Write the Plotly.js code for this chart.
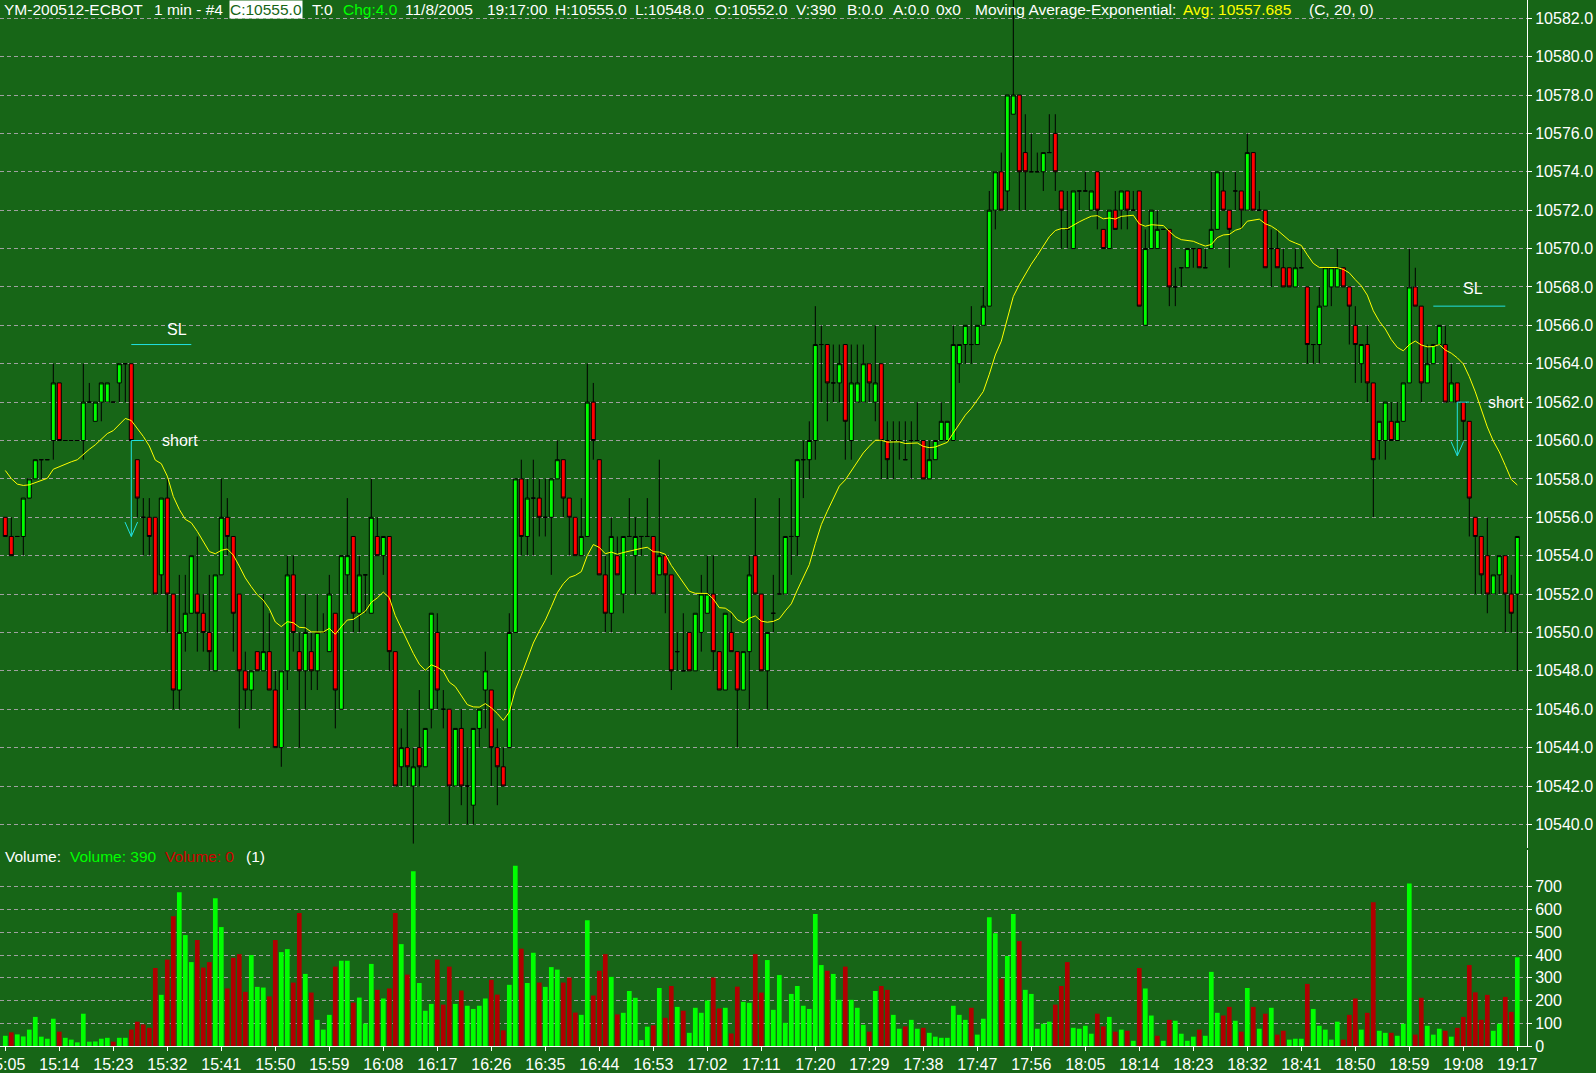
<!DOCTYPE html>
<html>
<head>
<meta charset="utf-8">
<script src="https://cdn.plot.ly/plotly-3.0.1.min.js"></script>
<style>
html,body{margin:0;padding:0;background:#176617;overflow:hidden;}
#chart{width:1596px;height:1073px;}
</style>
</head>
<body>
<div id="chart"></div>
<script>
// ---------------- DATA ----------------
const symbol = "YM-200512-ECBOT";
const startTime = "15:05";   // first 1-minute bar
const sessionDate = "11/8/2005";
const lastBarTime = "19:17:00";
const emaPeriod = 20;
const emaSeed = 10558.8;      // EMA value carried in from before the first visible bar
const emaLastText = "10557.685";

const opens = [
10556,10555,10555,10555,10557,10558,10559,10559,10560,10563,
10560,10560,10560,10560,10562,10561,10562,10562,10562,10563,
10564,10564,10559,10556,10556,10556,10553,10557,10552,10547,
10550,10551,10552,10551,10550,10548,10553,10556,10555,10552,
10548,10547,10549,10548,10549,10547,10544,10548,10553,10549,
10548,10549,10548,10550,10549,10551,10546,10553,10555,10551,
10553,10551,10555,10554,10555,10549,10543,10544,10542,10544,
10543,10546,10550,10546,10546,10542,10545,10542,10541,10545,
10547,10547,10544,10543,10544,10550,10558,10555,10557,10557,
10556,10556,10558,10559,10557,10556,10554,10555,10562,10559,
10553,10551,10554,10552,10555,10554,10555,10555,10555,10553,
10554,10553,10549,10548,10550,10548,10550,10551,10552,10549,
10547,10550,10549,10547,10549,10554,10552,10548,10551,10552,
10552,10555,10555,10559,10559,10560,10565,10565,10563,10563,
10565,10560,10562,10562,10564,10562,10564,10560,10560,10560,
10559,10560,10560,10560,10558,10559,10560,10560,10560,10564,
10565,10565,10565,10566,10567,10572,10574,10573,10577,10578,
10575,10574,10574,10574,10575,10576,10573,10571,10570,10573,
10573,10572,10574,10571,10570,10572,10572,10573,10572,10573,
10566,10570,10570,10571,10571,10568,10569,10569,10570,10570,
10569,10570,10571,10573,10572,10573,10573,10572,10575,10572,
10572,10570,10570,10569,10569,10568,10569,10568,10565,10565,
10567,10568,10568,10569,10568,10566,10564,10565,10563,10560,
10560,10561,10560,10561,10563,10568,10567,10563,10564,10565,
10565,10562,10563,10562,10561,10556,10555,10554,10552,10553,
10554,10552,10552];

const highs = [
10556,10556,10555,10557,10558,10559,10559,10559,10564,10563,
10560,10560,10560,10564,10563,10562,10563,10563,10562,10564,
10564,10564,10559,10557,10557,10556,10557,10558,10552,10553,
10553,10554,10555,10552,10553,10553,10558,10557,10555,10552,
10549,10548,10549,10552,10551,10548,10548,10554,10554,10550,
10552,10550,10552,10551,10553,10551,10554,10557,10555,10554,
10553,10558,10556,10555,10555,10549,10545,10546,10544,10547,
10545,10551,10551,10547,10546,10545,10546,10544,10545,10546,
10549,10547,10545,10544,10551,10558,10559,10558,10559,10558,
10558,10558,10560,10559,10557,10556,10557,10564,10563,10559,
10554,10556,10555,10555,10557,10556,10555,10557,10555,10559,
10554,10553,10550,10551,10550,10551,10553,10554,10554,10549,
10551,10551,10549,10549,10554,10557,10552,10550,10553,10557,
10555,10558,10559,10560,10561,10567,10566,10565,10565,10565,
10565,10565,10565,10565,10564,10566,10564,10561,10561,10561,
10561,10561,10562,10560,10560,10560,10562,10561,10566,10565,
10566,10567,10566,10568,10573,10574,10575,10578,10583,10578,
10577,10576,10575,10575,10577,10577,10573,10573,10573,10573,
10574,10573,10574,10571,10572,10573,10573,10573,10573,10573,
10571,10572,10572,10571,10571,10569,10569,10570,10570,10570,
10570,10574,10574,10574,10572,10574,10573,10576,10575,10573,
10572,10571,10571,10570,10569,10570,10570,10568,10565,10568,
10569,10569,10570,10569,10568,10567,10565,10566,10563,10561,
10562,10562,10562,10563,10570,10569,10567,10565,10565,10566,
10566,10564,10563,10562,10561,10556,10555,10556,10553,10554,
10554,10553,10555];

const lows = [
10555,10554,10555,10554,10557,10558,10558,10559,10559,10560,
10560,10560,10560,10559,10562,10561,10561,10562,10562,10562,
10562,10560,10556,10554,10554,10552,10552,10550,10546,10546,
10549,10551,10549,10549,10548,10548,10553,10554,10549,10545,
10546,10546,10548,10548,10547,10544,10543,10547,10549,10544,
10546,10547,10547,10550,10549,10545,10546,10552,10550,10550,
10551,10551,10554,10553,10548,10542,10542,10542,10539,10542,
10543,10545,10546,10545,10540,10542,10541,10540,10540,10544,
10545,10542,10541,10542,10544,10550,10554,10554,10554,10555,
10555,10553,10558,10556,10554,10554,10554,10555,10559,10553,
10550,10550,10553,10551,10555,10552,10554,10555,10552,10553,
10551,10547,10548,10548,10548,10548,10549,10551,10548,10547,
10547,10549,10544,10547,10546,10552,10548,10546,10550,10552,
10552,10553,10554,10557,10558,10559,10562,10561,10562,10562,
10559,10559,10562,10562,10562,10561,10558,10558,10558,10559,
10559,10558,10560,10558,10558,10559,10560,10560,10560,10563,
10564,10564,10565,10566,10567,10571,10572,10572,10577,10572,
10572,10574,10574,10573,10575,10573,10570,10570,10570,10572,
10573,10572,10571,10570,10570,10571,10571,10571,10572,10567,
10566,10570,10570,10571,10567,10567,10568,10569,10569,10569,
10569,10570,10571,10572,10569,10572,10571,10572,10572,10572,
10569,10568,10569,10568,10568,10568,10569,10564,10564,10564,
10567,10567,10568,10568,10565,10563,10563,10562,10556,10559,
10559,10560,10560,10561,10563,10567,10562,10563,10564,10565,
10562,10562,10562,10560,10555,10552,10552,10551,10552,10552,
10550,10550,10548];

const closes = [
10555,10554,10555,10557,10558,10559,10559,10559,10563,10560,
10560,10560,10560,10562,10562,10562,10563,10563,10562,10564,
10564,10560,10557,10556,10555,10552,10557,10552,10547,10550,
10551,10554,10551,10550,10549,10553,10556,10555,10551,10548,
10547,10548,10548,10549,10547,10544,10548,10553,10550,10548,
10550,10548,10550,10550,10552,10547,10554,10554,10551,10553,
10553,10556,10554,10555,10549,10542,10544,10543,10543,10543,
10545,10551,10547,10546,10542,10545,10542,10542,10545,10546,
10548,10544,10543,10542,10550,10558,10555,10557,10557,10556,
10556,10558,10559,10557,10556,10554,10555,10562,10560,10553,
10551,10555,10553,10555,10555,10555,10555,10555,10552,10554,
10553,10548,10549,10548,10548,10551,10552,10552,10549,10547,
10551,10549,10547,10549,10553,10552,10548,10550,10551,10552,
10555,10555,10559,10559,10560,10565,10565,10563,10563,10564,
10561,10563,10563,10564,10563,10563,10560,10559,10560,10560,
10559,10560,10560,10558,10559,10560,10561,10561,10565,10565,
10566,10565,10566,10567,10572,10574,10572,10578,10578,10574,
10574,10574,10574,10575,10575,10574,10572,10571,10573,10573,
10573,10573,10572,10570,10572,10571,10573,10572,10572,10567,
10570,10572,10571,10571,10568,10568,10569,10570,10570,10569,
10569,10571,10574,10572,10571,10573,10572,10575,10572,10572,
10569,10570,10569,10568,10568,10569,10569,10565,10565,10567,
10569,10569,10569,10568,10567,10565,10565,10563,10559,10561,
10562,10560,10561,10563,10568,10567,10563,10564,10565,10566,
10562,10563,10562,10561,10557,10555,10553,10552,10553,10554,
10552,10551,10555];

const volumes = [
45,60,51,42,72,128,41,32,120,63,
36,28,16,142,19,20,32,36,19,36,
36,72,107,95,80,343,225,380,571,676,
488,369,466,345,369,650,523,253,388,404,
238,400,260,257,218,466,413,426,279,585,
317,235,115,72,137,349,375,375,191,213,
99,361,247,209,253,585,448,314,768,277,
155,185,380,182,349,185,244,177,163,177,
209,291,226,69,269,793,428,277,410,279,
260,347,336,279,301,147,137,553,222,331,
404,304,139,146,242,212,26,85,91,255,
124,264,172,155,58,168,146,200,301,165,
168,55,261,194,190,404,235,378,159,312,
102,229,264,177,163,580,356,331,317,203,
349,203,168,93,63,242,264,247,137,76,
86,115,76,80,58,41,36,36,177,137,
115,168,50,120,566,496,296,396,580,461,
247,229,76,98,107,182,264,369,80,76,
89,54,142,86,128,63,72,67,23,343,
253,134,45,23,115,111,54,23,41,72,
45,326,146,134,172,111,63,255,172,76,
142,168,50,67,28,32,32,273,163,89,
72,28,107,28,137,209,72,146,632,67,
58,58,45,98,715,50,212,89,50,76,
67,41,80,128,356,236,115,225,67,98,
216,150,390];

// trade markers: short entries and their stop-loss levels
const shortBars = [21, 242];
const shortPrices = [10560, 10562];
const arrowTips = [10555, 10559.2];
const stopPrices = [10565, 10567];
const stopFromBars = [21, 238];
const stopToBars = [31, 250];

const priceTicks = [10540,10542,10544,10546,10548,10550,10552,10554,10556,10558,10560,
  10562,10564,10566,10568,10570,10572,10574,10576,10578,10580,10582];
const volumeTicks = [0,100,200,300,400,500,600,700];
const timeTickStep = 9;

// ---------------- DERIVED ----------------
const n = closes.length;
const xIdx = closes.map((_, i) => i);
const t0 = startTime.split(':').map(Number);
const times = xIdx.map(i => {
  const m = t0[0] * 60 + t0[1] + i;
  return Math.floor(m / 60) + ':' + String(m % 60).padStart(2, '0');
});
const tickVals = xIdx.filter(i => i % timeTickStep === 0);
const tickText = tickVals.map(i => times[i]);

const alpha = 2 / (emaPeriod + 1);
let prevEma = emaSeed;
const ema = closes.map(c => (prevEma = prevEma + alpha * (c - prevEma)));

const UP = '#00ff00', DOWN_VOL = '#b00000';
const volColors = closes.map((c, i) => (i === 0 || c >= closes[i - 1]) ? UP : DOWN_VOL);

// ---------------- STYLE / LAYOUT ----------------
const bg = '#176617';
const font = 'Liberation Sans, Arial, sans-serif';
const cyan = '#22e0e0';
const W = 1527, H = 1046;            // plot area in pixels
const px = v => v / W;
const py = v => (H - v) / H;

const traces = [
  {
    type: 'candlestick', x: xIdx, open: opens, high: highs, low: lows, close: closes,
    xaxis: 'x', yaxis: 'y', whiskerwidth: 0, hoverinfo: 'skip',
    increasing: { line: { color: '#000000', width: 1 }, fillcolor: '#00ff00' },
    decreasing: { line: { color: '#000000', width: 1 }, fillcolor: '#ff0000' }
  },
  {
    type: 'scatter', mode: 'lines', x: xIdx, y: ema, xaxis: 'x', yaxis: 'y',
    line: { color: '#ffff00', width: 1 }, hoverinfo: 'skip'
  },
  {
    type: 'bar', x: xIdx, y: volumes, width: 0.78, xaxis: 'x', yaxis: 'y2',
    marker: { color: volColors, line: { width: 0 } }, hoverinfo: 'skip'
  }
];

const annotations = [];
function txt(text, xpx, ypx, color, extra) {
  annotations.push(Object.assign({
    text: text, xref: 'paper', yref: 'paper', x: px(xpx), y: py(ypx),
    xanchor: 'left', yanchor: 'middle', showarrow: false,
    font: { family: font, size: 15.5, color: color || '#ffffff' }
  }, extra || {}));
}
const last = n - 1;
const f1 = v => v.toFixed(1);
txt(symbol, 2, 9);
txt('1 min - #4', 152, 9);
txt('C:' + f1(closes[last]), 229, 9, bg, { bgcolor: '#ffffff', borderpad: 0 });
txt('T:0', 310, 9);
txt('Chg:' + f1(closes[last] - closes[last - 1]), 341, 9, '#00ff00');
txt(sessionDate, 403, 9);
txt(lastBarTime, 485, 9);
txt('H:' + f1(highs[last]), 553, 9);
txt('L:' + f1(lows[last]), 633, 9);
txt('O:' + f1(opens[last]), 713, 9);
txt('V:' + volumes[last], 794, 9);
txt('B:0.0', 845, 9);
txt('A:0.0', 891, 9);
txt('0x0', 934, 9);
txt('Moving Average-Exponential:', 973, 9);
txt('Avg: ' + emaLastText, 1181, 9, '#ffff00');
txt('(C, ' + emaPeriod + ', 0)', 1307, 9);

txt('Volume:', 3, 856);
txt('Volume: ' + volumes[last], 68, 856, '#00ff00');
txt('Volume: 0', 163, 856, '#d00000');
txt('(1)', 244, 856);

// trade labels (data coordinates)
const slLabelX = [28.6, 244.6];
const slLabelLift = [0.8, 0.9];
const shapes = [];
for (let k = 0; k < shortBars.length; k++) {
  annotations.push({
    text: 'SL', xref: 'x', yref: 'y', x: slLabelX[k], y: stopPrices[k] + slLabelLift[k],
    showarrow: false, xanchor: 'center', yanchor: 'middle',
    font: { family: font, size: 16, color: '#ffffff' }
  });
  annotations.push({
    text: 'short', xref: 'x', yref: 'y', x: shortBars[k] + 4.8, y: shortPrices[k],
    showarrow: false, xanchor: 'left', yanchor: 'middle',
    font: { family: font, size: 16, color: '#ffffff' }
  });
  const ln = (x0, y0, x1, y1) => shapes.push({
    type: 'line', xref: 'x', yref: 'y', x0: x0, y0: y0, x1: x1, y1: y1,
    line: { color: cyan, width: 1 }
  });
  ln(stopFromBars[k], stopPrices[k], stopToBars[k], stopPrices[k]);
  ln(shortBars[k], shortPrices[k], shortBars[k] + 2, shortPrices[k]);
  ln(shortBars[k], shortPrices[k], shortBars[k], arrowTips[k]);
  ln(shortBars[k] - 1.05, arrowTips[k] + 0.75, shortBars[k], arrowTips[k]);
  ln(shortBars[k] + 1.05, arrowTips[k] + 0.75, shortBars[k], arrowTips[k]);
}

const gridStyle = { showgrid: true, gridcolor: '#a0a0a0', gridwidth: 1, griddash: '4px,3px' };

const layout = {
  width: 1596, height: 1073,
  margin: { l: 0, r: 69, t: 0, b: 27, pad: 0 },
  paper_bgcolor: bg, plot_bgcolor: bg,
  showlegend: false, hovermode: false, dragmode: false,
  boxgap: 0.3, boxgroupgap: 0.05,
  font: { family: font, size: 16, color: '#ffffff' },
  xaxis: {
    range: [-0.883, 253.617], anchor: 'y2', type: 'linear',
    tickmode: 'array', tickvals: tickVals, ticktext: tickText,
    ticklabeloverflow: 'allow',
    showgrid: false, zeroline: false, showline: true, linecolor: '#ffffff', linewidth: 1,
    ticks: 'outside', ticklen: 4, tickcolor: '#ffffff',
    tickfont: { family: font, size: 16, color: '#ffffff' },
    rangeslider: { visible: false }, fixedrange: true
  },
  yaxis: Object.assign({
    domain: [0.18929, 1], range: [10538.77, 10582.95], side: 'right', anchor: 'x',
    tickmode: 'array', tickvals: priceTicks, ticktext: priceTicks.map(v => v.toFixed(1)),
    zeroline: false, showline: true, linecolor: '#ffffff', linewidth: 1,
    ticks: 'outside', ticklen: 4, tickcolor: '#ffffff',
    tickfont: { family: font, size: 16, color: '#ffffff' }, fixedrange: true
  }, gridStyle),
  yaxis2: Object.assign({
    domain: [0, 0.18738], range: [0, 862], side: 'right', anchor: 'x',
    tickmode: 'array', tickvals: volumeTicks, ticktext: volumeTicks.map(String),
    zeroline: false, showline: true, linecolor: '#ffffff', linewidth: 1,
    ticks: 'outside', ticklen: 4, tickcolor: '#ffffff',
    tickfont: { family: font, size: 16, color: '#ffffff' }, fixedrange: true
  }, gridStyle),
  annotations: annotations,
  shapes: shapes
};

Plotly.newPlot('chart', traces, layout, { staticPlot: true, displayModeBar: false });
</script>
</body>
</html>
